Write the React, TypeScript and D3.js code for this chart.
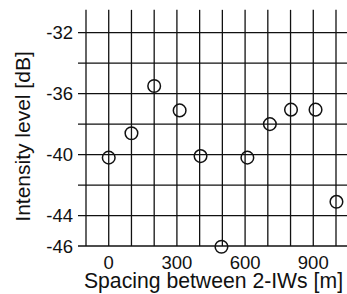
import React from "react";
import * as d3 from "d3";

const spacing = [0, 100, 200, 312, 404, 496, 610, 709, 802, 910, 1002];
const intensity = [-40.2, -38.6, -35.5, -37.1, -40.1, -46.05, -40.2, -38.0, -37.05, -37.05, -43.1];
const xGrid = [-100, 0, 100, 200, 300, 400, 500, 600, 700, 800, 900, 1000];
const xTickLabels = [0, 300, 600, 900];
const yGrid = [-32, -34, -36, -38, -40, -42, -44, -46];
const yTickLabels = [-32, -36, -40, -44, -46];

export default function App() {
  const W = 347, H = 294;
  const x = d3.scaleLinear().domain([-100, 1000]).range([86, 336]);
  const y = d3.scaleLinear().domain([-46, -32]).range([246, 32.7]);
  const yTop = y(-30.5);
  const font = "'Liberation Sans', Arial, sans-serif";
  const stroke = "#111";
  return (
    <svg width={W} height={H} style={{ position: "absolute", left: 0, top: 0, background: "#fff" }}>
      <rect width={W} height={H} fill="#fff" />
      {xGrid.map((v) => (
        <line key={"vx" + v} x1={x(v)} x2={x(v)} y1={yTop} y2={y(-46)} stroke={stroke} strokeWidth={1.3} />
      ))}
      {yGrid.map((v) => (
        <line key={"hy" + v} x1={78} x2={W + 5} y1={y(v)} y2={y(v)} stroke={stroke} strokeWidth={1.3} />
      ))}
      {yTickLabels.map((v) => (
        <text key={"yl" + v} x={73} y={y(v) + 6.5} textAnchor="end" fontFamily={font} fontSize={18.5} fill="#111">
          {v}
        </text>
      ))}
      {xTickLabels.map((v) => (
        <text key={"xl" + v} x={x(v)} y={269} textAnchor="middle" fontFamily={font} fontSize={18.5} fill="#111">
          {v}
        </text>
      ))}
      {spacing.map((s, i) => (
        <circle key={"p" + i} cx={x(s)} cy={y(intensity[i])} r={6.3} fill="none" stroke={stroke} strokeWidth={1.5} />
      ))}
      <text x={213.5} y={288} textAnchor="middle" fontFamily={font} fontSize={21.2} fill="#111">
        Spacing between 2-IWs [m]
      </text>
      <text
        transform={`translate(30,136.5) rotate(-90)`}
        textAnchor="middle"
        fontFamily={font}
        fontSize={21}
        fill="#111"
      >
        Intensity level [dB]
      </text>
    </svg>
  );
}
